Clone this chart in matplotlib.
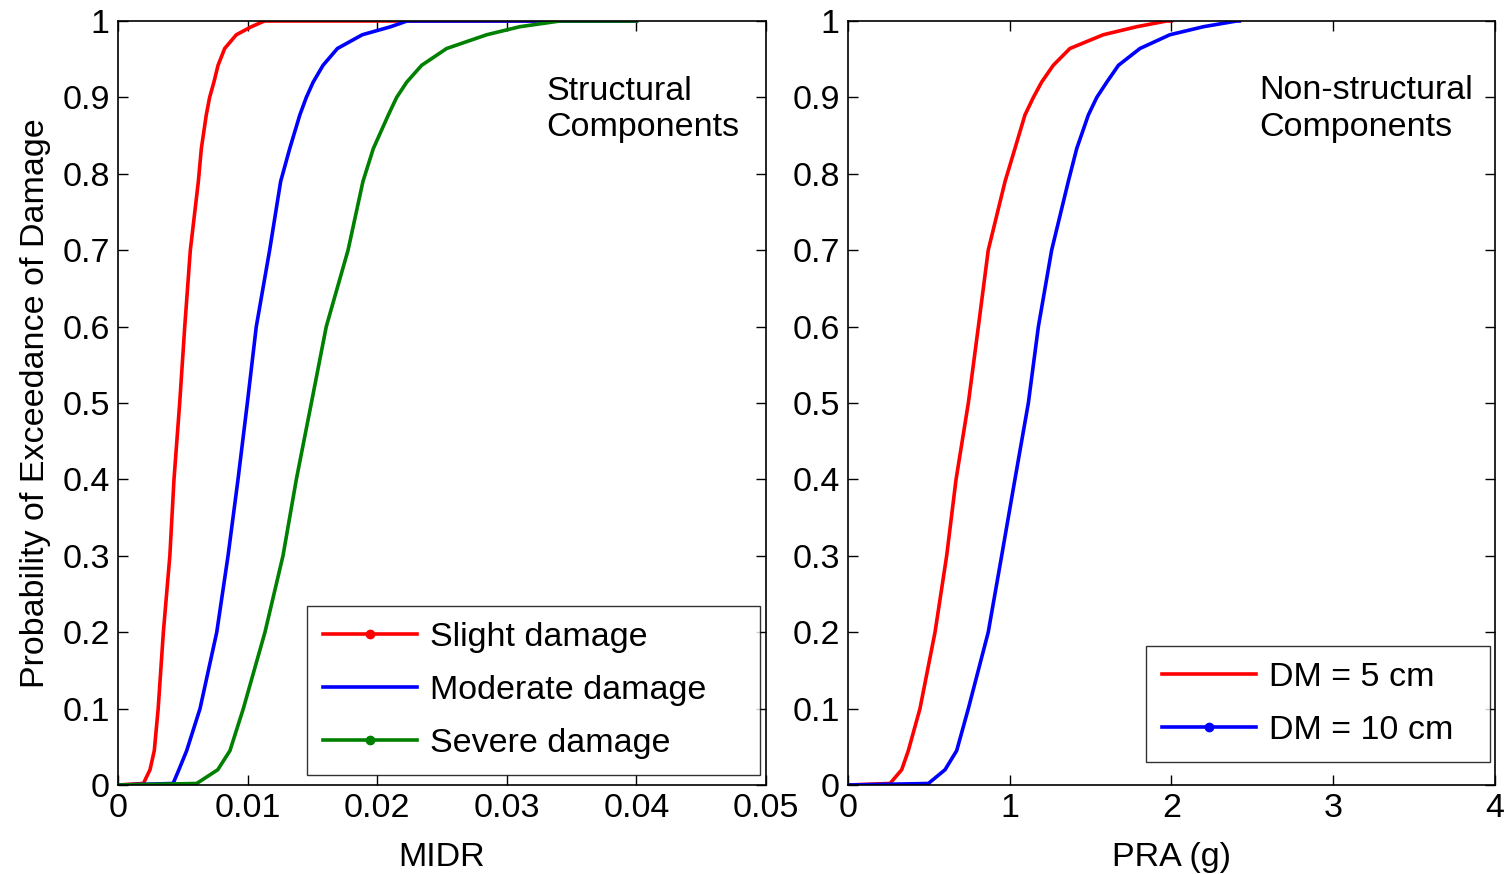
import matplotlib
matplotlib.use("Agg")
import matplotlib.pyplot as plt
from matplotlib.lines import Line2D

plt.rcParams['font.family'] = ['Liberation Sans', 'DejaVu Sans']

# ---- Data ----
# probability levels at which each curve was read
prob = [0.0, 0.002, 0.02, 0.045, 0.1, 0.2, 0.3, 0.4, 0.5, 0.6, 0.7, 0.79, 0.833,
        0.877, 0.9, 0.92, 0.942, 0.964, 0.982, 0.9925, 1.0, 1.0]

# Structural components, MIDR
midr_slight   = [0.0, 0.00196, 0.00247, 0.0028, 0.0031, 0.0035, 0.0040, 0.00432, 0.00476,
                 0.00515, 0.00558, 0.0062, 0.00643, 0.00681, 0.00707, 0.0074, 0.00772,
                 0.00823, 0.00913, 0.01029, 0.0113, 0.040]
midr_moderate = [0.0, 0.00425, 0.0047, 0.0053, 0.00633, 0.00762, 0.00849, 0.00926, 0.00998,
                 0.01067, 0.0117, 0.01255, 0.01325, 0.01403, 0.01453, 0.01506, 0.01582,
                 0.01693, 0.01885, 0.02104, 0.0223, 0.040]
midr_severe   = [0.0, 0.00607, 0.0077, 0.00864, 0.00967, 0.01134, 0.01273, 0.01376, 0.01492,
                 0.01607, 0.01775, 0.0189, 0.0197, 0.02086, 0.0215, 0.02228, 0.02343,
                 0.02536, 0.02845, 0.0310, 0.0341, 0.040]

# Non-structural components, PRA (g)
pra_dm5  = [0.0, 0.26, 0.332, 0.373, 0.445, 0.538, 0.61, 0.668, 0.744, 0.806, 0.867, 0.971,
            1.032, 1.094, 1.146, 1.197, 1.269, 1.372, 1.578, 1.785, 1.97, 2.0]
pra_dm10 = [0.0, 0.497, 0.60, 0.672, 0.744, 0.867, 0.95, 1.032, 1.115, 1.177, 1.259, 1.362,
            1.414, 1.486, 1.538, 1.60, 1.672, 1.805, 1.99, 2.197, 2.403, 2.42]

left_labels = ['Slight damage', 'Moderate damage', 'Severe damage']
right_labels = ['DM = 5 cm', 'DM = 10 cm']
left_xticks = [0, 0.01, 0.02, 0.03, 0.04, 0.05]
left_xticklabels = ['0', '0.01', '0.02', '0.03', '0.04', '0.05']
right_xticks = [0, 1, 2, 3, 4]
yticks = [0, 0.1, 0.2, 0.3, 0.4, 0.5, 0.6, 0.7, 0.8, 0.9, 1]
yticklabels = ['0', '0.1', '0.2', '0.3', '0.4', '0.5', '0.6', '0.7', '0.8', '0.9', '1']

RED = '#ff0000'
BLUE = '#0000ff'
GREEN = '#008000'
LW = 2.6
FS = 24.5

fig = plt.figure(figsize=(15.09, 8.74), dpi=100)
ax1 = fig.add_axes([118/1509, 1-785/874, (766-118)/1509, (785-21)/874])
ax2 = fig.add_axes([848/1509, 1-785/874, (1495-848)/1509, (785-21)/874])

ax1.plot(midr_slight, prob, color=RED, lw=LW)
ax1.plot(midr_moderate, prob, color=BLUE, lw=LW)
ax1.plot(midr_severe, prob, color=GREEN, lw=LW)

ax2.plot(pra_dm5, prob, color=RED, lw=LW)
ax2.plot(pra_dm10, prob, color=BLUE, lw=LW)

for ax in (ax1, ax2):
    ax.set_ylim(0, 1)
    ax.set_yticks(yticks)
    ax.set_yticklabels(yticklabels)
    ax.tick_params(direction='in', top=True, right=True, length=7, width=1,
                   labelsize=FS, pad=6)
    for s in ax.spines.values():
        s.set_linewidth(1.2)

ax1.set_xlim(0, 0.05)
ax1.set_xticks(left_xticks)
ax1.set_xticklabels(left_xticklabels)
ax2.set_xlim(0, 4)
ax2.set_xticks(right_xticks)
ax2.set_xticklabels([str(t) for t in right_xticks])

ax1.set_xlabel('MIDR', fontsize=FS, labelpad=13)
ax2.set_xlabel('PRA (g)', fontsize=FS, labelpad=13)
ax1.set_ylabel('Probability of Exceedance of Damage', fontsize=FS, labelpad=8)

ax1.text(0.661, 0.9285, 'Structural\nComponents', transform=ax1.transAxes,
         fontsize=FS, va='top', ha='left', linespacing=1.22)
ax2.text(0.635, 0.929, 'Non-structural\nComponents', transform=ax2.transAxes,
         fontsize=FS, va='top', ha='left', linespacing=1.22)

h1 = [Line2D([0, 0.5, 1], [0, 0, 0], color=RED, lw=LW, marker='o', markersize=6, markevery=[1]),
      Line2D([], [], color=BLUE, lw=LW),
      Line2D([0, 0.5, 1], [0, 0, 0], color=GREEN, lw=LW, marker='o', markersize=6, markevery=[1])]
leg1 = ax1.legend(h1, left_labels, loc='lower left',
                  bbox_to_anchor=(0.2917, 0.0131, 0.699, 0.3), mode='expand',
                  fontsize=FS, frameon=True, fancybox=False, edgecolor='black',
                  handlelength=2.75, handletextpad=0.4, borderpad=0.47, labelspacing=0.65,
                  borderaxespad=0)
leg1.get_frame().set_linewidth(1.0)

h2 = [Line2D([], [], color=RED, lw=LW),
      Line2D([0, 0.5, 1], [0, 0, 0], color=BLUE, lw=LW, marker='o', markersize=6, markevery=[1])]
leg2 = ax2.legend(h2, right_labels, loc='lower left',
                  bbox_to_anchor=(0.4606, 0.0301, 0.5317, 0.2), mode='expand',
                  fontsize=FS, frameon=True, fancybox=False, edgecolor='black',
                  handlelength=2.75, handletextpad=0.4, borderpad=0.47, labelspacing=0.65,
                  borderaxespad=0)
leg2.get_frame().set_linewidth(1.0)

fig.savefig('out.png', dpi=100)
